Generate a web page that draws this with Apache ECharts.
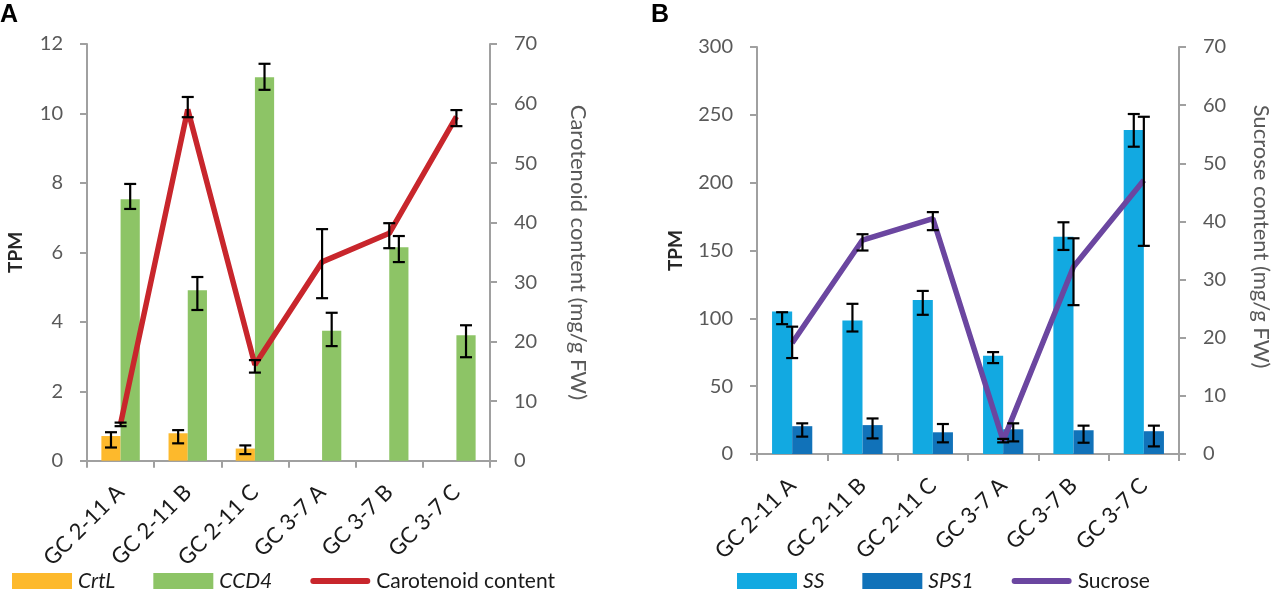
<!DOCTYPE html>
<html><head><meta charset="utf-8">
<script src="https://cdn.jsdelivr.net/npm/echarts@6/dist/echarts.min.js"></script>
<style>html,body{margin:0;padding:0;background:#fff}#c{width:1275px;height:592px}</style>
</head><body><div id="c"></div>
<script>
// ---------- data ----------
const categories = ['GC 2-11 A', 'GC 2-11 B', 'GC 2-11 C', 'GC 3-7 A', 'GC 3-7 B', 'GC 3-7 C'];

// Panel A (TPM left, carotenoid right)
const crtL      = [0.71, 0.79, 0.35, 0, 0, 0];
const crtLLow   = [0.38, 0.50, 0.19, 0, 0, 0];
const crtLHigh  = [0.82, 0.88, 0.44, 0, 0, 0];
const ccd4      = [7.53, 4.91, 11.04, 3.74, 6.15, 3.61];
const ccd4Low   = [7.25, 4.34, 10.68, 3.30, 5.72, 2.98];
const ccd4High  = [7.97, 5.29, 11.43, 4.26, 6.47, 3.90];
const carotenoid     = [6.2, 59.0, 16.1, 33.4, 38.2, 57.8];
const carotenoidLow  = [5.8, 57.7, 14.8, 27.3, 35.7, 56.2];
const carotenoidHigh = [6.4, 61.1, 16.9, 38.9, 39.9, 58.9];

// Panel B (TPM left, sucrose right)
const ss        = [105.0, 98.4, 113.6, 72.4, 160.2, 238.8];
const ssLow     = [95.7, 90.3, 102.6, 67.0, 150.4, 226.5];
const ssHigh    = [104.5, 110.7, 120.2, 75.1, 170.8, 250.6];
const sps1      = [20.5, 21.3, 16.0, 18.2, 17.5, 16.8];
const sps1Low   = [12.8, 11.5, 8.6, 9.3, 8.3, 5.6];
const sps1High  = [22.6, 26.2, 22.1, 22.6, 20.9, 20.9];
const sucrose     = [19.1, 36.8, 40.5, 2.3, 32.2, 47.1];
const sucroseLow  = [16.5, 35.0, 38.5, 2.0, 25.6, 35.8];
const sucroseHigh = [21.9, 37.8, 41.6, 2.6, 37.1, 58.0];

// ---------- styling ----------
const FONT = 'Lato';
const GRAY = '#595959';
const AXIS = '#a0a0a0';
const BARW = '28.6%';
const OFF = 0.143;
const LINE_ICON = 'path://M3,0 L57,0 A3,3 0 0 1 57,6 L3,6 A3,3 0 0 1 3,0 Z';

function errRender(offsetFrac) {
  return function (params, api) {
    const i = api.value(0);
    const lo = api.value(1), hi = api.value(2);
    if (lo === hi) return null;
    const p1 = api.coord([i, lo]);
    const p2 = api.coord([i, hi]);
    const band = api.size([1, 0])[0];
    const x = p1[0] + band * offsetFrac;
    const cap = 6;
    const style = { stroke: '#000', lineWidth: 2.2 };
    return {
      type: 'group', children: [
        { type: 'line', shape: { x1: x, y1: p1[1], x2: x, y2: p2[1] }, style },
        { type: 'line', shape: { x1: x - cap, y1: p1[1], x2: x + cap, y2: p1[1] }, style },
        { type: 'line', shape: { x1: x - cap, y1: p2[1], x2: x + cap, y2: p2[1] }, style }
      ]
    };
  };
}
function errData(low, high) { return categories.map((c, i) => [i, low[i], high[i]]); }
function errSeries(xi, yi, offset, low, high) {
  return { type: 'custom', xAxisIndex: xi, yAxisIndex: yi, renderItem: errRender(offset),
    data: errData(low, high), z: 10, silent: true, legendHoverLink: false, tooltip: { show: false } };
}

function xAxisCfg(gi) {
  return {
    type: 'category', gridIndex: gi, data: categories,
    axisLine: { lineStyle: { color: AXIS, width: 2 } },
    axisTick: { show: true, length: 7, lineStyle: { color: AXIS, width: 2 } },
    axisLabel: { rotate: 45, margin: 28, color: '#1a1a1a', fontSize: 22, fontFamily: FONT, interval: 0 }
  };
}
function yAxisCfg(gi, pos, max, interval, name, nameGap, bold, pad) {
  return {
    type: 'value', gridIndex: gi, position: pos, min: 0, max: max, interval: interval,
    name: name, nameLocation: 'middle', nameGap: nameGap,
    nameRotate: pos === 'left' ? 90 : -90,
    nameTextStyle: { fontFamily: FONT, fontSize: bold ? 19 : 22, fontWeight: bold ? 'bold' : 'normal',
      color: bold ? '#262626' : GRAY, padding: pad || 0 },
    axisLine: { show: true, lineStyle: { color: AXIS, width: 2 } },
    axisTick: { show: true, length: 7, lineStyle: { color: AXIS, width: 2 } },
    axisLabel: { color: GRAY, fontSize: 20, fontFamily: FONT, margin: 24 },
    splitLine: { show: false }
  };
}

const italicNames = ['CrtL', 'CCD4', 'SS', 'SPS1'];
function legendCfg(left, names) {
  return {
    left: left, top: 567, padding: 2, itemWidth: 60, itemHeight: 16, itemGap: 38,
    data: names, icon: 'rect', symbolKeepAspect: true,
    textStyle: { fontFamily: FONT, fontSize: 21, lineHeight: 24, color: '#1a1a1a', padding: [0, 0, 0, 1],
      rich: { i: { fontStyle: 'italic', fontFamily: FONT, fontSize: 21, lineHeight: 24, color: '#1a1a1a' } } },
    formatter: n => italicNames.indexOf(n) >= 0 ? '{i|' + n + '}' : n
  };
}

const option = {
  animation: false,
  backgroundColor: '#fff',
  textStyle: { fontFamily: FONT },
  graphic: [
    { type: 'text', left: 0, top: 3, style: { text: 'A', font: 'bold 25px "Liberation Sans"', fill: '#000' } },
    { type: 'text', left: 651, top: 3, style: { text: 'B', font: 'bold 25px "Liberation Sans"', fill: '#000' } }
  ],
  legend: [
    legendCfg(10, [
      { name: 'CrtL' }, { name: 'CCD4' },
      { name: 'Carotenoid content', icon: LINE_ICON, itemStyle: { color: '#c8262c' } }
    ]),
    legendCfg(735, [
      { name: 'SS' }, { name: 'SPS1' },
      { name: 'Sucrose', icon: LINE_ICON, itemStyle: { color: '#6b46a0' } }
    ])
  ],
  grid: [
    { left: 87, width: 403, top: 44, height: 416.7 },
    { left: 757, width: 422, top: 47, height: 407 }
  ],
  xAxis: [xAxisCfg(0), xAxisCfg(1)],
  yAxis: [
    yAxisCfg(0, 'left', 12, 2, 'TPM', 62, true),
    yAxisCfg(0, 'right', 70, 10, 'Carotenoid content (mg/g FW)', 77, false),
    yAxisCfg(1, 'left', 300, 50, 'TPM', 72, true),
    yAxisCfg(1, 'right', 70, 10, 'Sucrose content (mg/g FW)', 71, false, [0, 28, 0, 0])
  ],
  series: [
    { name: 'CrtL', type: 'bar', xAxisIndex: 0, yAxisIndex: 0, data: crtL, barWidth: BARW, barGap: '0%',
      itemStyle: { color: '#fdb92c' } },
    { name: 'CCD4', type: 'bar', xAxisIndex: 0, yAxisIndex: 0, data: ccd4, barWidth: BARW, barGap: '0%',
      itemStyle: { color: '#8dc466' } },
    { name: 'Carotenoid content', type: 'line', xAxisIndex: 0, yAxisIndex: 1, data: carotenoid,
      symbol: 'none', lineStyle: { color: '#c8262c', width: 5.5 }, itemStyle: { color: '#c8262c' }, z: 5 },
    errSeries(0, 0, -OFF, crtLLow, crtLHigh),
    errSeries(0, 0, OFF, ccd4Low, ccd4High),
    errSeries(0, 1, 0, carotenoidLow, carotenoidHigh),

    { name: 'SS', type: 'bar', xAxisIndex: 1, yAxisIndex: 2, data: ss, barWidth: BARW, barGap: '0%',
      itemStyle: { color: '#12a9e1' } },
    { name: 'SPS1', type: 'bar', xAxisIndex: 1, yAxisIndex: 2, data: sps1, barWidth: BARW, barGap: '0%',
      itemStyle: { color: '#1172b9' } },
    { name: 'Sucrose', type: 'line', xAxisIndex: 1, yAxisIndex: 3, data: sucrose,
      symbol: 'none', lineStyle: { color: '#6b46a0', width: 5.5 }, itemStyle: { color: '#6b46a0' }, z: 5 },
    errSeries(1, 2, -OFF, ssLow, ssHigh),
    errSeries(1, 2, OFF, sps1Low, sps1High),
    errSeries(1, 3, 0, sucroseLow, sucroseHigh)
  ]
};

const chart = echarts.init(document.getElementById('c'), null, { renderer: 'canvas' });
chart.setOption(option);
</script>
</body></html>
